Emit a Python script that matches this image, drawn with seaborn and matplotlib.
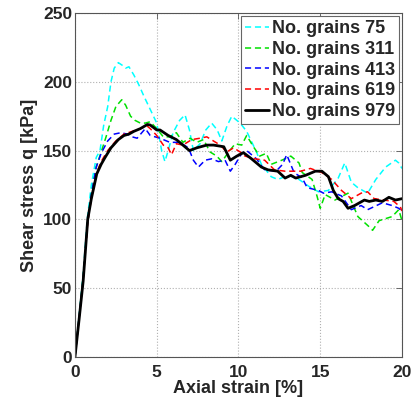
import numpy as np
import pandas as pd
import matplotlib
matplotlib.use("Agg")
import matplotlib.pyplot as plt
import seaborn as sns

# Shear stress q [kPa] vs axial strain [%] per grain count
strain_75 = [0, 0.25, 0.5, 0.75, 1.0, 1.3, 1.53, 1.75, 2.0, 2.2, 2.4, 2.65, 2.9, 3.1, 3.3, 3.6,
             3.9, 4.2, 4.6, 5.0, 5.3, 5.5, 5.7, 6.0, 6.4, 6.73, 7.0, 7.24, 7.65, 8.0, 8.36, 8.7,
             8.98, 9.3, 9.59, 10.1, 10.5, 11.1, 11.4, 12.0, 12.4, 13.05, 13.7, 14.3, 14.9, 15.5,
             16.1, 16.5, 16.9, 17.3, 17.9, 18.4, 19.0, 19.6, 19.8, 20.0]
q_75 = [0, 30, 60, 100, 125, 145, 150, 168, 182, 200, 210, 214, 212, 210, 211, 205,
        198, 190, 180, 170, 150, 142, 150, 163, 172, 176, 165, 150, 155, 165, 170, 165,
        157, 168, 175, 170, 164, 149, 140, 131, 129, 132, 129, 124, 120, 121,
        130, 141, 127, 123, 119, 129, 138, 143, 141, 137]

strain_311 = [0, 0.25, 0.5, 0.75, 1.0, 1.3, 1.63, 1.9, 2.2, 2.5, 2.86, 3.1, 3.4, 3.67, 4.0, 4.3,
              4.6, 5.0, 5.4, 5.8, 6.2, 6.6, 7.04, 7.45, 7.86, 8.26, 8.67, 8.98, 9.4, 9.8, 10.2,
              10.5, 10.9, 11.3, 11.7, 12.0, 12.65, 13.2, 13.7, 13.9, 14.5, 14.8, 15.0, 15.3,
              15.9, 16.7, 17.3, 17.95, 18.2, 18.6, 19.4, 19.8, 20.0]
q_311 = [0, 28, 58, 95, 118, 138, 150, 160, 172, 182, 187, 183, 175, 172, 170, 170,
         171, 166, 160, 160, 163, 156, 159, 156, 158, 149, 146, 142, 149, 155, 154,
         161, 153, 146, 148, 140, 143, 146, 141, 134, 129, 117, 108, 118,
         114, 119, 102, 95, 92, 99, 102, 107, 99]

strain_413 = [0, 0.25, 0.5, 0.75, 1.0, 1.3, 1.6, 2.0, 2.4, 2.8, 3.2, 3.5, 3.8, 4.3, 4.6, 5.2,
              5.8, 6.4, 6.94, 7.24, 7.55, 7.96, 8.36, 8.77, 9.18, 9.5, 9.8, 10.2, 10.5, 11.1,
              11.6, 12.3, 12.7, 12.95, 13.4, 13.9, 14.2, 14.9, 15.2, 15.7, 16.3, 16.9, 17.5,
              17.9, 18.8, 19.4, 19.8, 20.0]
q_413 = [0, 28, 57, 95, 118, 138, 148, 157, 162, 163, 162, 160, 159, 166, 161, 159,
         156, 156, 152, 143, 138, 143, 144, 142, 143, 135, 140, 148, 150, 144,
         136, 135, 140, 147, 134, 130, 123, 121, 119, 120, 117, 107, 110,
         107, 112, 110, 108, 106]

strain_619 = [0, 0.25, 0.5, 0.78, 1.0, 1.33, 1.6, 2.0, 2.5, 3.0, 3.5, 4.0, 4.4, 4.6, 5.0, 5.4,
              5.7, 5.9, 6.2, 6.6, 7.14, 7.65, 8.06, 8.47, 8.88, 9.28, 9.7, 10.1, 10.4, 11.0,
              11.6, 12.2, 12.85, 13.8, 14.4, 15.1, 15.7, 16.3, 16.9, 17.5, 17.9, 18.3, 18.9,
              19.5, 19.9, 20.0]
q_619 = [0, 28, 56, 98, 115, 134, 142, 150, 157, 162, 164, 166, 168, 166, 161, 154,
         152, 147, 155, 154, 158, 159, 160, 157, 154, 149, 152, 149, 146, 144,
         143, 136, 135, 135, 137, 134, 129, 121, 115, 119, 120, 115, 114,
         113, 109, 106]

strain_979 = [0, 0.25, 0.5, 0.78, 1.0, 1.33, 1.6, 1.84, 2.2, 2.65, 3.0, 3.3, 3.6, 4.0, 4.43,
              4.6, 5.0, 5.2, 5.7, 6.2, 6.6, 7.0, 7.45, 8.06, 8.47, 9.1, 9.5, 9.9, 10.3, 10.8,
              11.4, 11.8, 12.4, 12.85, 13.2, 13.5, 14.1, 14.7, 15.1, 15.5, 15.8, 16.1, 16.4,
              16.7, 17.1, 17.7, 18.0, 18.4, 18.8, 19.2, 19.6, 20.0]
q_979 = [0, 27, 55, 100, 115, 133, 140, 145, 152, 158, 161, 162, 164, 166, 169,
         168.6, 165, 165, 161, 158, 154, 150, 152, 154, 154, 152.8, 143, 146, 148.5, 144,
         138, 136, 135, 130, 132, 130, 132, 135, 135, 131, 121, 115, 113,
         108, 110, 114, 113, 114, 113, 116, 114, 115]

grain_counts = [75, 311, 413, 619, 979]
strains = [strain_75, strain_311, strain_413, strain_619, strain_979]
stresses = [q_75, q_311, q_413, q_619, q_979]
colors = ["#00ffff", "#00e000", "#0000ff", "#ff0000", "#000000"]

frames = []
for n, s, q in zip(grain_counts, strains, stresses):
    frames.append(pd.DataFrame({"strain": s, "q": q, "label": f"No. grains {n}"}))
df = pd.concat(frames, ignore_index=True)

sns.set_style("white")
plt.rcParams["font.family"] = ["Liberation Sans", "DejaVu Sans"]
plt.rcParams["font.weight"] = "bold"

fig = plt.figure(figsize=(4.18, 3.99), dpi=100)
ax = fig.add_axes([0.1794, 0.106, 0.7823, 0.861])

for i, n in enumerate(grain_counts):
    lab = f"No. grains {n}"
    sub = df[df["label"] == lab]
    last = i == len(grain_counts) - 1
    sns.lineplot(data=sub, x="strain", y="q", ax=ax, color=colors[i], sort=False,
                 estimator=None, label=lab,
                 linewidth=2.0 if last else 1.1,
                 linestyle="-" if last else (0, (4, 2.5)))

ax.set_xlim(0, 20)
ax.set_ylim(0, 250)
ax.set_xticks([0, 5, 10, 15, 20])
ax.set_yticks([0, 50, 100, 150, 200, 250])
ax.grid(True, linestyle=":", color="#b0b0b0", linewidth=0.8)
for sp in ax.spines.values():
    sp.set_color("#555555")
    sp.set_linewidth(0.8)
ax.tick_params(direction="in", length=4, width=0.6, color="#555555",
               top=True, right=True, labelsize=12.5)
ax.tick_params(axis="x", pad=6)
ax.tick_params(axis="y", pad=2)
for t in ax.get_xticklabels() + ax.get_yticklabels():
    t.set_fontweight("bold")

ax.set_xlabel("Axial strain [%]", fontsize=13, fontweight="bold", labelpad=0)
ax.set_ylabel("Shear stress q [kPa]", fontsize=13, fontweight="bold", labelpad=4)

leg = ax.legend(loc="upper right", fontsize=13, handlelength=1.3, handletextpad=0.15,
                labelspacing=0.2, borderpad=0.25, borderaxespad=0.15, fancybox=False,
                framealpha=1, edgecolor="#666666")
leg.get_frame().set_linewidth(0.8)
for t in leg.get_texts():
    t.set_fontweight("bold")

fig.savefig("out.png", dpi=100)
